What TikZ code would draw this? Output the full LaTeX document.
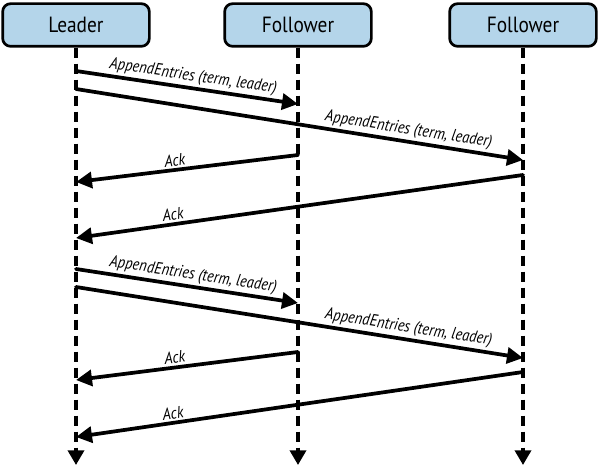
\documentclass[tikz,border=0pt]{standalone}
\usepackage{fontspec}
\setmainfont[FakeStretch=0.88]{PT Sans}
\usetikzlibrary{arrows.meta}
\definecolor{boxblue}{RGB}{180,213,234}
\begin{document}
\begin{tikzpicture}[x=0.75pt,y=-0.75pt,
  actor/.style={draw=black,line width=2pt,fill=boxblue,rounded corners=6pt,minimum width=110pt,minimum height=32pt,font=\fontsize{16.5}{18}\selectfont},
  life/.style={line width=2.6pt,dash pattern=on 7.5pt off 4.5pt,-{Triangle[length=11pt,width=12pt]}},
  msg/.style={line width=2.8pt,line cap=round,-{Triangle[length=12pt,width=12pt]}},
  lbl/.style={font=\fontsize{12.5}{14}\selectfont\itshape,inner sep=1.5pt,sloped,above}]
\useasboundingbox (0,0) rectangle (600,466);
\node[actor] (L) at (76,25) {Leader};
\node[actor] (F1) at (298,25) {Follower};
\node[actor] (F2) at (523,25) {Follower};
\coordinate (Le) at (76,465);
\coordinate (F1e) at (298,465);
\coordinate (F2e) at (523,465);
\draw[life] (L.south) -- (Le);
\draw[life] (F1.south) -- (F1e);
\draw[life] (F2.south) -- (F2e);
% coordinates on lifelines
\coordinate (a1) at (76,71);  \coordinate (b1) at (298,104);
\coordinate (a2) at (76,89);  \coordinate (b2) at (523,160);
\coordinate (a3) at (298,155); \coordinate (b3) at (76,182);
\coordinate (a4) at (523,175); \coordinate (b4) at (76,238);
\coordinate (a5) at (76,269); \coordinate (b5) at (298,303);
\coordinate (a6) at (76,287); \coordinate (b6) at (523,358);
\coordinate (a7) at (298,352); \coordinate (b7) at (76,380);
\coordinate (a8) at (523,372); \coordinate (b8) at (76,437);
\draw[msg] (a1) -- node[lbl,pos=0.52] {AppendEntries (term, leader)} (b1);
\draw[msg] (a2) -- node[lbl,pos=0.74] {AppendEntries (term, leader)} (b2);
\draw[msg] (a3) -- node[lbl,pos=0.55] {Ack} (b3);
\draw[msg] (a4) -- node[lbl,pos=0.78] {Ack} (b4);
\draw[msg] (a5) -- node[lbl,pos=0.52] {AppendEntries (term, leader)} (b5);
\draw[msg] (a6) -- node[lbl,pos=0.74] {AppendEntries (term, leader)} (b6);
\draw[msg] (a7) -- node[lbl,pos=0.55] {Ack} (b7);
\draw[msg] (a8) -- node[lbl,pos=0.78] {Ack} (b8);
\end{tikzpicture}
\end{document}
